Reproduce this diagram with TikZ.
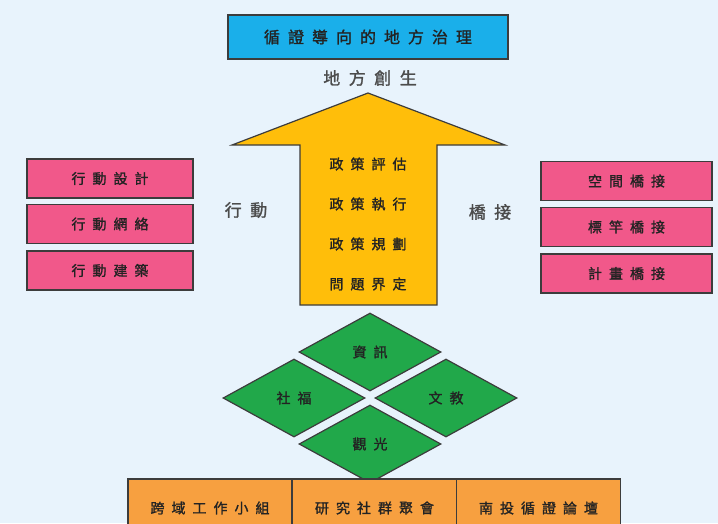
\documentclass[tikz,border=0pt]{standalone}
\usepackage{fontspec}
\newfontfamily\cjk[LetterSpace=50,FakeBold=1.5]{Noto Sans CJK TC}
\usetikzlibrary{shapes.geometric}
\definecolor{bgblue}{RGB}{232,243,252}
\definecolor{topcyan}{RGB}{26,175,234}
\definecolor{arrowgold}{RGB}{255,190,10}
\definecolor{rosepink}{RGB}{241,88,138}
\definecolor{leafgreen}{RGB}{33,168,74}
\definecolor{boxorange}{RGB}{247,160,64}
\definecolor{edgegray}{RGB}{60,60,60}
\definecolor{textgray}{RGB}{35,35,35}
\tikzset{
  box/.style={draw=edgegray,line width=1.2pt,inner sep=0pt,text=textgray,
    font=\cjk\fontsize{14}{14}\selectfont},
  topbox/.style={box,fill=topcyan,minimum width=280pt,minimum height=44pt,
    font=\cjk\fontsize{16}{16}\selectfont},
  pinkbox/.style={box,fill=rosepink,minimum height=39pt},
  orangebox/.style={box,fill=boxorange,minimum width=164pt,minimum height=58pt},
  diam/.style={box,shape=diamond,fill=leafgreen,aspect=1.82,
    minimum width=142pt,minimum height=78pt},
  stage/.style={text=textgray,font=\cjk\fontsize{14}{14}\selectfont},
  side/.style={text=black!70,font=\cjk\fontsize{17}{17}\selectfont}
}
\begin{document}
\begin{tikzpicture}[x=1pt,y=-1pt]
  \fill[bgblue] (0,0) rectangle (718,523);
  \useasboundingbox (0,0) rectangle (718,523);

  % goal
  \node[topbox] (goal) at (368,37) {循證導向的地方治理};
  \node[side] (revive) at (370,78) {地方創生};

  % arrow
  \draw[edgegray,line width=1.2pt,fill=arrowgold]
    (368,93) -- (505,145) -- (437,145) -- (437,305)
    -- (300,305) -- (300,145) -- (232,145) -- cycle;
  \node[stage] (eval) at (368,164) {政策評估};
  \node[stage] (exec) at (368,204) {政策執行};
  \node[stage] (plan) at (368,244) {政策規劃};
  \node[stage] (prob) at (368,284) {問題界定};

  % left side
  \node[side] (act) at (246,210) {行動};
  \node[pinkbox,minimum width=166pt] (design) at (110,178.5) {行動設計};
  \node[pinkbox,minimum width=166pt] (net) at (110,224) {行動網絡};
  \node[pinkbox,minimum width=166pt] (build) at (110,270.5) {行動建築};

  % right side
  \node[side] (bridge) at (490,212) {橋接};
  \node[pinkbox,minimum width=171pt] (space) at (626.5,181) {空間橋接};
  \node[pinkbox,minimum width=171pt] (bench) at (626.5,227) {標竿橋接};
  \node[pinkbox,minimum width=171pt] (proj) at (626.5,273.5) {計畫橋接};

  % fields
  \node[diam] (info) at (370,352) {資訊};
  \node[diam] (welfare) at (294,398) {社福};
  \node[diam] (edu) at (446,398) {文教};
  \node[diam] (tour) at (370,444) {觀光};

  % base
  \node[orangebox] (team) at (210,508) {跨域工作小組};
  \node[orangebox] (group) at (374.5,508) {研究社群聚會};
  \node[orangebox] (forum) at (538.5,508) {南投循證論壇};
\end{tikzpicture}
\end{document}
